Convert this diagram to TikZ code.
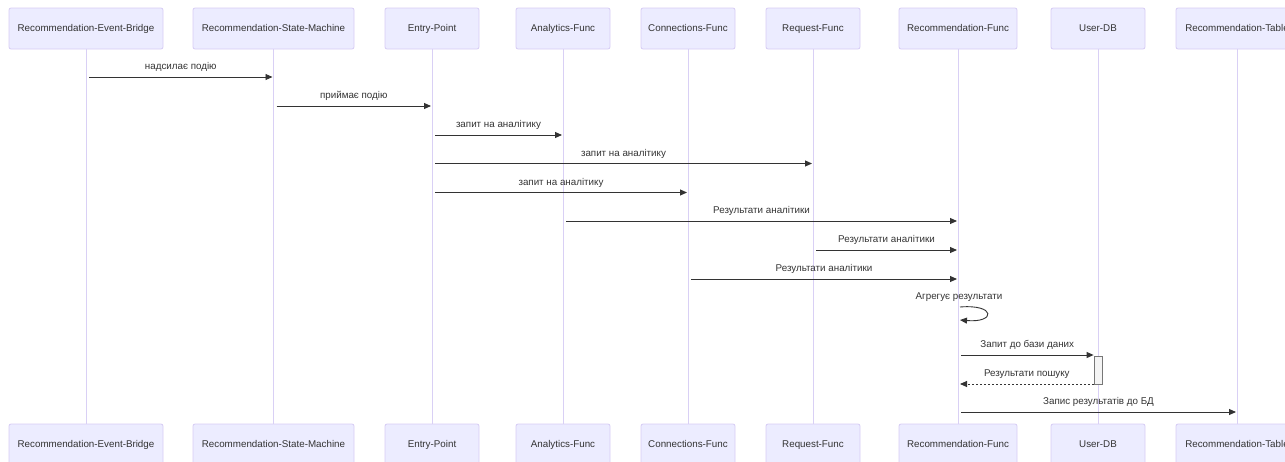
\documentclass[tikz,border=0pt]{standalone}
\usepackage{fontspec}
\setmainfont{Liberation Sans}
\usetikzlibrary{arrows.meta}
\definecolor{actorfill}{HTML}{ECECFF}
\definecolor{actorline}{HTML}{D6CCF4}
\definecolor{lifeline}{HTML}{D9D0F5}
\definecolor{ink}{HTML}{333333}
\definecolor{actfill}{HTML}{F4F4F4}
\definecolor{actline}{HTML}{777777}

\begin{document}
\begin{tikzpicture}[x=1pt,y=-1pt,
  actor/.style={draw=actorline, fill=actorfill, rounded corners=2pt,
    minimum height=41pt, inner sep=0pt, line width=0.8pt,
    text height=7pt, text depth=2pt,
    font=\fontsize{9.8}{12}\selectfont, text=ink},
  life/.style={draw=lifeline, line width=1pt},
  msg/.style={draw=ink, line width=0.9pt, -{Triangle[length=7pt,width=6pt]}},
  reply/.style={msg, dash pattern=on 2pt off 2pt},
  lbl/.style={font=\fontsize{9.8}{12}\selectfont, text=ink, inner sep=0pt,
    text height=7pt, text depth=2pt},
  activation/.style={draw=actline, fill=actfill, line width=0.8pt,
    minimum width=8pt, minimum height=28pt, inner sep=0pt}]
\useasboundingbox (0,0) rectangle (1285,461);
\clip (0,0) rectangle (1285,461);

% participants: top and bottom boxes joined by a lifeline
\foreach \n/\x/\w/\t in {%
eb/86/154/Recommendation-Event-Bridge,%
sm/273.5/161/Recommendation-State-Machine,%
ep/432/94/Entry-Point,%
af/563/94/Analytics-Func,%
cf/688/94/Connections-Func,%
rqf/813/94/Request-Func,%
rcf/958/118/Recommendation-Func,%
udb/1098/94/User-DB,%
rt/1237/122/Recommendation-Table%
} {
  \node[actor, minimum width=\w pt] (\n-top) at (\x,28.5) {\t};
  \node[actor, minimum width=\w pt] (\n-bot) at (\x,444.5) {\t};
  \draw[life] (\n-top.south) -- (\n-bot.north);
}

% activation bar on User-DB
\node[activation] (act) at (1098,370) {};

% messages
\draw[msg] ([xshift=3pt]eb-top.south |- 0,77) -- ([xshift=-1pt]sm-top.south |- 0,77)
  node[lbl, midway, yshift=10pt] {надсилає подію};
\draw[msg] ([xshift=3pt]sm-top.south |- 0,106) -- ([xshift=-1pt]ep-top.south |- 0,106)
  node[lbl, midway, yshift=10pt] {приймає подію};
\draw[msg] ([xshift=3pt]ep-top.south |- 0,135) -- ([xshift=-1pt]af-top.south |- 0,135)
  node[lbl, midway, yshift=10pt] {запит на аналітику};
\draw[msg] ([xshift=3pt]ep-top.south |- 0,163.5) -- ([xshift=-1pt]rqf-top.south |- 0,163.5)
  node[lbl, midway, yshift=10pt] {запит на аналітику};
\draw[msg] ([xshift=3pt]ep-top.south |- 0,192.5) -- ([xshift=-1pt]cf-top.south |- 0,192.5)
  node[lbl, midway, yshift=10pt] {запит на аналітику};
\draw[msg] ([xshift=3pt]af-top.south |- 0,221) -- ([xshift=-1pt]rcf-top.south |- 0,221)
  node[lbl, midway, yshift=10pt] {Результати аналітики};
\draw[msg] ([xshift=3pt]rqf-top.south |- 0,250) -- ([xshift=-1pt]rcf-top.south |- 0,250)
  node[lbl, midway, yshift=10pt] {Результати аналітики};
\draw[msg] ([xshift=3pt]cf-top.south |- 0,279) -- ([xshift=-1pt]rcf-top.south |- 0,279)
  node[lbl, midway, yshift=10pt] {Результати аналітики};

% self call on Recommendation-Func
\node[lbl] (selflbl) at (959,297) {Агрегує результати};
\draw[msg] ([xshift=2pt]rcf-top.south |- 0,307) .. controls +(36,-3) and +(36,3) ..
  ([xshift=2pt]rcf-top.south |- 0,320);

% database lookup
\draw[msg] ([xshift=3pt]rcf-top.south |- 0,355) -- (act.west |- 0,355)
  node[lbl, midway, yshift=10pt] {Запит до бази даних};
\draw[reply] (act.west |- 0,384) -- ([xshift=2pt]rcf-top.south |- 0,384)
  node[lbl, midway, yshift=10pt] {Результати пошуку};

% store results
\draw[msg] ([xshift=3pt]rcf-top.south |- 0,412) -- ([xshift=-1pt]rt-top.south |- 0,412)
  node[lbl, midway, yshift=10pt] {Запис результатів до БД};
\end{tikzpicture}
\end{document}
